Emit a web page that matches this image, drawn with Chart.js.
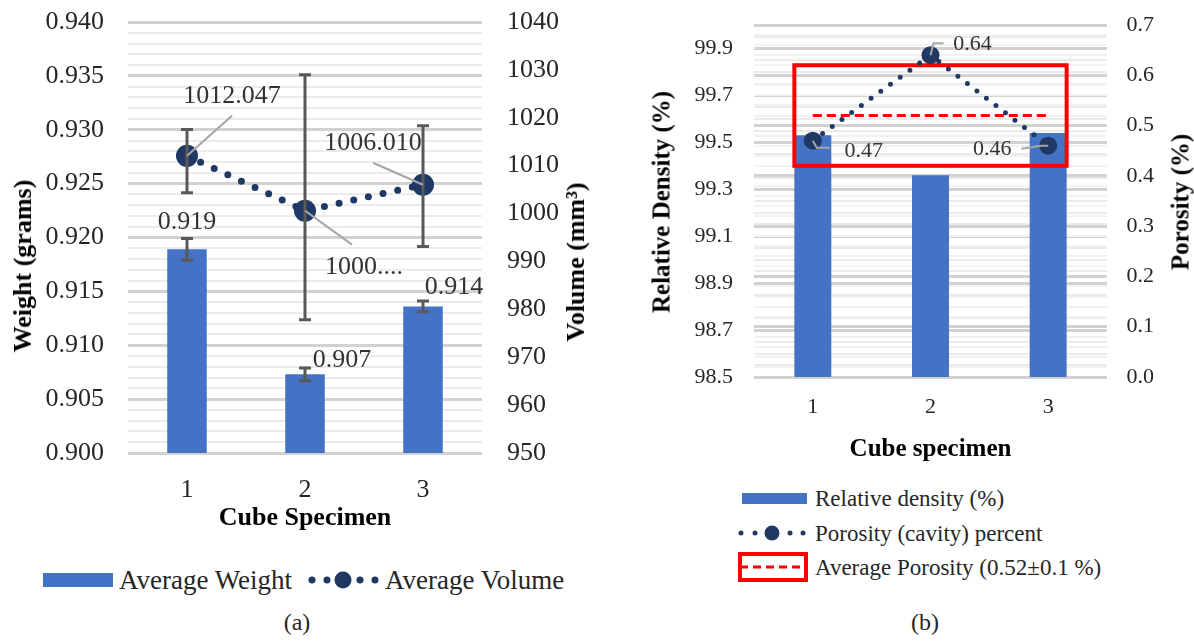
<!DOCTYPE html>
<html>
<head>
<meta charset="utf-8">
<script src="https://cdn.jsdelivr.net/npm/chart.js@4.4.0/dist/chart.umd.min.js"></script>
<style>
  body { margin: 0; background: #fff; width: 1194px; height: 641px; position: relative; overflow: hidden;
         font-family: "Liberation Serif", "Times New Roman", serif; color: #262626; }
  canvas { position: absolute; top: 0; }
  #chartA { left: 0; }
  #chartB { left: 600px; }
  .txt { position: absolute; white-space: nowrap; line-height: 1; }
  .mk { position: absolute; }
</style>
</head>
<body>
<canvas id="chartA" width="600" height="545"></canvas>
<canvas id="chartB" width="594" height="470"></canvas>
<script>
// ---- data (a) ----
const specimens = ['1', '2', '3'];
const avgWeight = [0.9189, 0.9073, 0.9136];
const weightErr = [0.001, 0.0006, 0.0005];
const avgVolume = [1012.047, 1000.6, 1006.010];
const volumeErrPlus = [5.5, 28.4, 12.3];
const volumeErrMinus = [7.7, 22.8, 12.9];
const volumeLabels = ['1012.047', '1000....', '1006.010'];
const seriesA = ['Average Weight', 'Average Volume'];

// ---- data (b) ----
const relDensity = [99.53, 99.36, 99.54];
const porosity = [0.47, 0.64, 0.46];
const avgPorosity = 0.52;
const porosityBand = 0.1;
const seriesB = ['Relative density (%)', 'Porosity (cavity) percent', 'Average Porosity (0.52\u00b10.1 %)'];

const FONT = '"Liberation Serif", "Times New Roman", serif';
const BLUE = '#4472C4';
const NAVY = '#203864';
const RED = '#FF0000';
const GRID_MAJOR = '#d2d2d2';
const GRID_MINOR = '#ebebeb';
Chart.defaults.font.family = FONT;
Chart.defaults.color = '#333';

// fixed box size, no extra label padding pushed into the layout
function fixBox(w, h) {
  return s => {
    if (w) s.width = w;
    if (h) s.height = h;
    s.paddingTop = 0; s.paddingBottom = 0; s.paddingLeft = 0; s.paddingRight = 0;
  };
}

function makeErrorBars(sets) {
  return {
    id: 'errorBars',
    afterDatasetsDraw(chart) {
      const ctx = chart.ctx;
      ctx.save();
      ctx.strokeStyle = '#595959';
      ctx.lineWidth = 3;
      sets.forEach(set => {
        const meta = chart.getDatasetMeta(set.dataset);
        const scale = chart.scales[meta.yAxisID];
        const values = chart.data.datasets[set.dataset].data;
        meta.data.forEach((el, i) => {
          const yHi = scale.getPixelForValue(values[i] + set.plus[i]);
          const yLo = scale.getPixelForValue(values[i] - set.minus[i]);
          ctx.beginPath();
          ctx.moveTo(el.x, yHi); ctx.lineTo(el.x, yLo);
          ctx.moveTo(el.x - 6, yHi); ctx.lineTo(el.x + 6, yHi);
          ctx.moveTo(el.x - 6, yLo); ctx.lineTo(el.x + 6, yLo);
          ctx.stroke();
        });
      });
      ctx.restore();
    }
  };
}

function makeLabels(items, size) {
  return {
    id: 'valueLabels',
    afterDatasetsDraw(chart) {
      const ctx = chart.ctx;
      ctx.save();
      items.forEach(item => {
        const meta = chart.getDatasetMeta(item.dataset);
        meta.data.forEach((el, i) => {
          const lead = item.leaders && item.leaders[i];
          if (lead) {
            ctx.strokeStyle = '#a6a6a6';
            ctx.lineWidth = 2;
            ctx.beginPath();
            ctx.moveTo(el.x, el.y);
            lead.forEach(p => ctx.lineTo(el.x + p[0], el.y + p[1]));
            ctx.stroke();
          }
          ctx.fillStyle = '#333';
          ctx.font = size + 'px ' + FONT;
          ctx.textAlign = 'center';
          ctx.textBaseline = 'middle';
          ctx.fillText(item.texts[i], el.x + item.offsets[i][0], el.y + item.offsets[i][1]);
        });
      });
      ctx.restore();
    }
  };
}

function isMultiple(v, step) {
  const r = v / step;
  return Math.abs(r - Math.round(r)) < 1e-6;
}

// ---------------- chart (a) ----------------
new Chart(document.getElementById('chartA'), {
  type: 'bar',
  data: {
    labels: specimens,
    datasets: [
      {
        type: 'line', label: seriesA[1], data: avgVolume, yAxisID: 'y1', order: 1,
        borderColor: NAVY, borderWidth: 7, borderDash: [0, 15], borderCapStyle: 'round',
        pointRadius: 11, pointHoverRadius: 11, pointBackgroundColor: NAVY, pointBorderWidth: 0,
        tension: 0, fill: false
      },
      {
        label: seriesA[0], data: avgWeight, yAxisID: 'y', order: 2,
        backgroundColor: BLUE, barPercentage: 0.335, categoryPercentage: 1
      }
    ]
  },
  options: {
    responsive: false,
    animation: false,
    layout: { padding: { top: 22, left: 0, right: 0, bottom: 0 } },
    plugins: { legend: { display: false }, tooltip: { enabled: false } },
    scales: {
      x: {
        grid: { display: false }, border: { display: false },
        ticks: { font: { size: 26 }, padding: 14, color: '#262626' },
        title: { display: true, text: 'Cube Specimen', color: '#000',
                 font: { size: 26, weight: 'bold', lineHeight: 1 }, padding: { top: 0, bottom: 14 } },
        afterFit: fixBox(0, 92)
      },
      y: {
        position: 'left', min: 0.9, max: 0.94,
        ticks: {
          stepSize: 0.001, autoSkip: false, padding: 24, font: { size: 26 }, color: '#262626',
          callback: v => isMultiple(v - 0.9, 0.005) ? v.toFixed(3) : ''
        },
        grid: {
          drawTicks: false,
          color: c => isMultiple(c.tick.value - 0.9, 0.005) ? GRID_MAJOR : GRID_MINOR,
          lineWidth: c => isMultiple(c.tick.value - 0.9, 0.005) ? 3 : 2
        },
        border: { display: false },
        afterFit: fixBox(128, 0)
      },
      y1: {
        position: 'right', min: 950, max: 1040,
        ticks: { stepSize: 10, padding: 25, font: { size: 26 }, color: '#262626', callback: v => String(v) },
        grid: { drawOnChartArea: false, drawTicks: false },
        border: { display: false },
        afterFit: fixBox(118, 0)
      }
    }
  },
  plugins: [
    makeErrorBars([
      { dataset: 1, plus: weightErr, minus: weightErr },
      { dataset: 0, plus: volumeErrPlus, minus: volumeErrMinus }
    ]),
    makeLabels([
      { dataset: 1, texts: avgWeight.map(v => v.toFixed(3)), offsets: [[0, -27], [37, -14], [31, -19]] },
      { dataset: 0, texts: volumeLabels, offsets: [[45, -60], [59, 56], [-50, -42]],
        leaders: [[[45, -40]], [[47, 34]], [[-50, -22]]] }
    ], 26)
  ]
});

// ---------------- chart (b) ----------------
const bandBox = {
  id: 'bandBox',
  afterDatasetDraw(chart, args) {
    if (args.meta.type !== 'bar') return;
    const bars = args.meta.data;
    const y1 = chart.scales.y1;
    const x0 = bars[0].x - bars[0].width / 2;
    const x1 = bars[bars.length - 1].x + bars[bars.length - 1].width / 2;
    const top = y1.getPixelForValue(avgPorosity + porosityBand);
    const bottom = y1.getPixelForValue(avgPorosity - porosityBand);
    const ctx = chart.ctx;
    ctx.save();
    ctx.strokeStyle = RED;
    ctx.lineWidth = 4;
    ctx.strokeRect(x0, top, x1 - x0, bottom - top);
    ctx.restore();
  }
};

new Chart(document.getElementById('chartB'), {
  type: 'bar',
  data: {
    labels: specimens,
    datasets: [
      {
        type: 'line', label: seriesB[1], data: porosity, yAxisID: 'y1', order: 1,
        borderColor: NAVY, borderWidth: 5, borderDash: [0, 12], borderCapStyle: 'round',
        pointRadius: 9, pointHoverRadius: 9, pointBackgroundColor: NAVY, pointBorderWidth: 0,
        tension: 0, fill: false
      },
      {
        type: 'line', label: seriesB[2], data: specimens.map(() => avgPorosity), yAxisID: 'y1', order: 2,
        borderColor: RED, borderWidth: 3, borderDash: [9, 5], pointRadius: 0, fill: false
      },
      {
        label: seriesB[0], data: relDensity, yAxisID: 'y', order: 3,
        backgroundColor: BLUE, barPercentage: 0.314, categoryPercentage: 1
      }
    ]
  },
  options: {
    responsive: false,
    animation: false,
    layout: { padding: { top: 25, left: 0, right: 0, bottom: 0 } },
    plugins: { legend: { display: false }, tooltip: { enabled: false } },
    scales: {
      x: {
        grid: { display: false }, border: { display: false },
        ticks: { font: { size: 22 }, padding: 9, color: '#262626' },
        title: { display: true, text: 'Cube specimen', color: '#000',
                 font: { size: 25, weight: 'bold', lineHeight: 1 }, padding: { top: 0, bottom: 8 } },
        afterFit: fixBox(0, 93)
      },
      y: {
        position: 'left', min: 98.5, max: 100,
        ticks: {
          stepSize: 0.05, autoSkip: false, padding: 21, font: { size: 22 }, color: '#262626',
          callback: v => (isMultiple(v - 98.5, 0.2) && v < 99.95) ? v.toFixed(1) : ''
        },
        grid: {
          drawTicks: false,
          color: c => (isMultiple(c.tick.value - 98.5, 0.2) || c.tick.value > 99.99) ? GRID_MAJOR : GRID_MINOR,
          lineWidth: c => (isMultiple(c.tick.value - 98.5, 0.2) || c.tick.value > 99.99) ? 3 : 2
        },
        border: { display: false },
        afterFit: fixBox(154, 0)
      },
      y1: {
        position: 'right', min: 0, max: 0.7,
        ticks: {
          stepSize: 0.02, autoSkip: false, padding: 19.5, font: { size: 22 }, color: '#262626',
          callback: v => isMultiple(v, 0.1) ? v.toFixed(1) : ''
        },
        grid: {
          drawTicks: false,
          color: c => isMultiple(c.tick.value, 0.1) ? GRID_MAJOR : '#f2f2f2',
          lineWidth: c => isMultiple(c.tick.value, 0.1) ? 3 : 2
        },
        border: { display: false },
        afterFit: fixBox(87, 0)
      }
    }
  },
  plugins: [
    bandBox,
    makeLabels([
      { dataset: 0, texts: porosity.map(v => v.toFixed(2)),
        offsets: [[51, 11], [42, -11], [-56, 4]],
        leaders: [[[4, 7], [17, 7]], [[1, -4], [3, -12], [13, -12]], [[-7, 0], [-27, 3]]] }
    ], 22)
  ]
});

// ---------------- titles, legends, captions ----------------
function addText(text, x, y, size, opt) {
  opt = opt || {};
  const d = document.createElement('div');
  d.className = 'txt';
  d.textContent = text;
  d.style.left = x + 'px';
  d.style.top = y + 'px';
  d.style.fontSize = size + 'px';
  if (opt.bold) { d.style.fontWeight = 'bold'; d.style.color = '#000'; }
  if (opt.rotate) d.style.transform = 'translate(-50%,-50%) rotate(-90deg)';
  else if (opt.center) d.style.transform = 'translate(-50%,-50%)';
  else d.style.transform = 'translateY(-50%)';
  document.body.appendChild(d);
}
function addMarker(html, x, y, w, h) {
  const d = document.createElement('div');
  d.className = 'mk';
  d.style.left = x + 'px'; d.style.top = y + 'px';
  d.style.width = w + 'px'; d.style.height = h + 'px';
  d.innerHTML = html;
  document.body.appendChild(d);
}

addText('Weight (grams)', 23, 266, 26, { bold: true, rotate: true });
addText('Volume (mm\u00b3)', 576, 262, 26, { bold: true, rotate: true });
addText('Relative Density (%)', 661, 202, 25, { bold: true, rotate: true });
addText('Porosity (%)', 1180, 202, 25, { bold: true, rotate: true });

// legend (a)
addMarker('<div style="width:70px;height:14px;background:' + BLUE + '"></div>', 43, 573, 70, 14);
addText(seriesA[0], 119, 580, 27);
addMarker('<svg width="76" height="24"><g fill="' + NAVY + '">' +
  '<circle cx="7" cy="12" r="3.5"/><circle cx="22" cy="12" r="3.5"/><circle cx="38" cy="12" r="8.5"/>' +
  '<circle cx="55" cy="12" r="3.5"/><circle cx="70" cy="12" r="3.5"/></g></svg>', 305, 568, 76, 24);
addText(seriesA[1], 385, 580, 27);

// legend (b)
addMarker('<div style="width:65px;height:11px;background:' + BLUE + '"></div>', 742, 493, 65, 11);
addText(seriesB[0], 815, 498, 23);
addMarker('<svg width="72" height="24"><g fill="' + NAVY + '">' +
  '<circle cx="4" cy="12" r="2.5"/><circle cx="18" cy="12" r="2.5"/><circle cx="35" cy="12" r="7.5"/>' +
  '<circle cx="53" cy="12" r="2.5"/><circle cx="66" cy="12" r="2.5"/></g></svg>', 737, 521, 72, 24);
addText(seriesB[1], 815, 533, 23);
addMarker('<svg width="72" height="32"><rect x="3" y="3" width="66" height="26" fill="none" stroke="' + RED + '" stroke-width="4"/>' +
  '<line x1="3" y1="16" x2="69" y2="16" stroke="' + RED + '" stroke-width="3" stroke-dasharray="8,5"/></svg>', 737, 551, 72, 32);
addText(seriesB[2], 815, 567, 23);

addText('(a)', 297, 622, 24, { center: true });
addText('(b)', 925, 622, 24, { center: true });
</script>
</body>
</html>
